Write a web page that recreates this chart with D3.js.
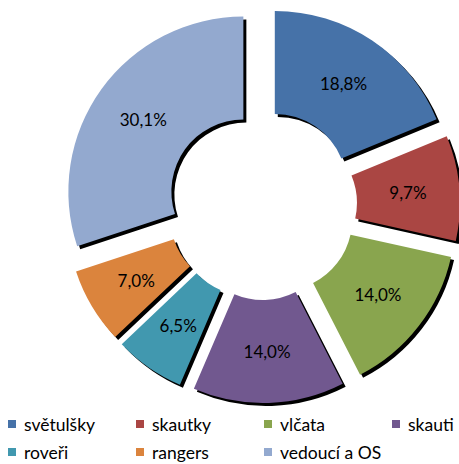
<!DOCTYPE html>
<html>
<head>
<meta charset="utf-8">
<script src="https://cdnjs.cloudflare.com/ajax/libs/d3/7.8.5/d3.min.js"></script>
<style>
  body { margin: 0; background: #fff; }
  svg text { font-family: Lato, "Noto Sans", sans-serif; fill: #000; }
</style>
</head>
<body>
<div id="chart"></div>
<script>
var categories = ["světulšky", "skautky", "vlčata", "skauti", "roveři", "rangers", "vedoucí a OS"];
var values = [18.8, 9.7, 14.0, 14.0, 6.5, 7.0, 30.1];
var colors = ["#4672A8", "#AA4643", "#89A54E", "#71588F", "#4198AF", "#DB843D", "#93A9CF"];

var width = 459;
var height = 464;
var cx = 262, cy = 205;
var outerR = 175, innerR = 72;
var explode = 23;

var svg = d3.select("#chart")
	.append("svg")
	.attr("width", width)
	.attr("height", height);

var pie = d3.pie()
	.value(function(d) { return d; })
	.sort(null);

var arc = d3.arc()
	.innerRadius(innerR)
	.outerRadius(outerR);

var arcs = pie(values);

function offset(d) {
	var a = (d.startAngle + d.endAngle) / 2;
	return [Math.sin(a) * explode, -Math.cos(a) * explode];
}

var g = svg.append("g")
	.attr("transform", "translate(" + cx + "," + cy + ")");

// shadows first, then the slices
g.selectAll("path.shadow")
	.data(arcs).enter()
	.append("path")
	.attr("class", "shadow")
	.attr("d", arc)
	.attr("fill", "#000")
	.attr("transform", function(d) {
		var o = offset(d);
		return "translate(" + (o[0] + 3) + "," + (o[1] + 3) + ")";
	});

g.selectAll("path.slice")
	.data(arcs).enter()
	.append("path")
	.attr("class", "slice")
	.attr("d", arc)
	.attr("fill", function(d, i) { return colors[i]; })
	.attr("transform", function(d) {
		return "translate(" + offset(d) + ")";
	});

g.selectAll("text.lbl")
	.data(arcs).enter()
	.append("text")
	.attr("class", "lbl")
	.attr("text-anchor", "middle")
	.attr("dominant-baseline", "central")
	.style("font-size", "17px")
	.attr("transform", function(d) {
		var c = arc.centroid(d);
		var o = offset(d);
		return "translate(" + (c[0] + o[0]) + "," + (c[1] + o[1]) + ")";
	})
	.text(function(d) { return d.data.toFixed(1).replace(".", ",") + "%"; });

// legend, 4 columns x 2 rows
var colX = d3.scaleLinear().domain([0, 3]).range([8, 392]);
var rowY = d3.scaleLinear().domain([0, 1]).range([424, 452]);

var legend = svg.selectAll("g.leg")
	.data(categories).enter()
	.append("g")
	.attr("class", "leg")
	.attr("transform", function(d, i) {
		return "translate(" + colX(i % 4) + "," + rowY(Math.floor(i / 4)) + ")";
	});

legend.append("rect")
	.attr("x", 0)
	.attr("y", -4)
	.attr("width", 8)
	.attr("height", 8)
	.attr("fill", function(d, i) { return colors[i]; });

legend.append("text")
	.attr("x", 16)
	.attr("dominant-baseline", "central")
	.style("font-size", "17.5px")
	.text(function(d) { return d; });
</script>
</body>
</html>
